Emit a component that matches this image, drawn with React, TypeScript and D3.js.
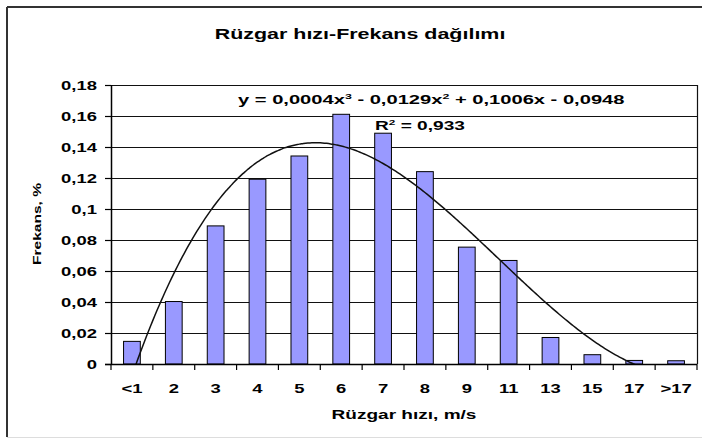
import React, { useEffect, useRef } from "react";
import * as d3 from "d3";

const categories = ["<1", "2", "3", "4", "5", "6", "7", "8", "9", "11", "13", "15", "17", ">17"];
const frequencies = [0.0146, 0.0403, 0.0891, 0.1192, 0.1342, 0.1611, 0.1489, 0.1241, 0.0754, 0.0668, 0.0171, 0.006, 0.0023, 0.0021];
const yTicks = [0, 0.02, 0.04, 0.06, 0.08, 0.1, 0.12, 0.14, 0.16, 0.18];
const yTickLabels = ["0", "0,02", "0,04", "0,06", "0,08", "0,1", "0,12", "0,14", "0,16", "0,18"];

const title = "Rüzgar hızı-Frekans dağılımı";
const xTitle = "Rüzgar hızı, m/s";
const yTitle = "Frekans, %";

// least squares cubic, same as excel's polynomial trendline
function cubicFit(ys: number[]) {
  const n = 4;
  const A: number[][] = [];
  for (let r = 0; r < n; r++) {
    A.push([]);
    for (let c = 0; c <= n; c++) A[r].push(0);
  }
  ys.forEach((y, i) => {
    const x = i + 1;
    for (let r = 0; r < n; r++) {
      for (let c = 0; c < n; c++) A[r][c] += Math.pow(x, r + c);
      A[r][n] += y * Math.pow(x, r);
    }
  });
  for (let p = 0; p < n; p++) {
    let best = p;
    for (let r = p + 1; r < n; r++) if (Math.abs(A[r][p]) > Math.abs(A[best][p])) best = r;
    [A[p], A[best]] = [A[best], A[p]];
    for (let r = 0; r < n; r++) {
      if (r === p) continue;
      const f = A[r][p] / A[p][p];
      for (let c = p; c <= n; c++) A[r][c] -= f * A[p][c];
    }
  }
  return A.map((row, i) => row[n] / row[i]);
}

function drawChart(node: SVGSVGElement) {
  const svg = d3.select(node);
  svg.selectAll("*").remove();

  const left = 111, right = 697, top = 85, bottom = 364;
  const font = "'Liberation Sans', Arial, sans-serif";

  // outer chart frame
  svg.append("line").attr("x1", 7).attr("x2", 7).attr("y1", 7).attr("y2", 437)
    .attr("stroke", "#333").attr("stroke-width", 2);
  svg.append("line").attr("x1", 7).attr("x2", 702).attr("y1", 7).attr("y2", 7)
    .attr("stroke", "#333").attr("stroke-width", 2);
  svg.append("line").attr("x1", 7).attr("x2", 702).attr("y1", 437.5).attr("y2", 437.5)
    .attr("stroke", "#ddd").attr("stroke-width", 1);

  const x = d3.scaleBand().domain(categories).range([left, right])
    .paddingInner(0.6).paddingOuter(0.3);
  const y = d3.scaleLinear().domain([0, 0.18]).range([bottom, top]);
  const step = x.step();

  // gridlines
  svg.append("g").selectAll("line").data(yTicks).join("line")
    .attr("x1", left).attr("x2", right)
    .attr("y1", d => Math.round(y(d)) + 0.5).attr("y2", d => Math.round(y(d)) + 0.5)
    .attr("stroke", "#111").attr("stroke-width", 1);
  svg.append("line").attr("x1", right + 0.5).attr("x2", right + 0.5).attr("y1", top).attr("y2", bottom)
    .attr("stroke", "#111").attr("stroke-width", 1.2);

  // bars
  svg.append("g").selectAll("rect").data(frequencies).join("rect")
    .attr("x", (d, i) => x(categories[i])!)
    .attr("y", d => y(d))
    .attr("width", x.bandwidth())
    .attr("height", d => y(0) - y(d))
    .attr("fill", "#9999ff").attr("stroke", "#000").attr("stroke-width", 1);

  // trendline
  const coef = cubicFit(frequencies);
  const xc = d3.scaleLinear().domain([1, categories.length])
    .range([x(categories[0])! + x.bandwidth() / 2, x(categories[categories.length - 1])! + x.bandwidth() / 2]);
  const pts = d3.range(1, categories.length + 0.001, 0.05).map(t => [t, coef[0] + coef[1] * t + coef[2] * t * t + coef[3] * t * t * t]);
  svg.append("clipPath").attr("id", "plotclip").append("rect")
    .attr("x", left).attr("y", top).attr("width", right - left).attr("height", bottom - top);
  svg.append("path").datum(pts)
    .attr("clip-path", "url(#plotclip)")
    .attr("fill", "none").attr("stroke", "#111").attr("stroke-width", 1.5)
    .attr("d", d3.line<number[]>().x(d => xc(d[0])).y(d => y(d[1])).curve(d3.curveBasis));

  // axes
  svg.append("line").attr("x1", left + 0.5).attr("x2", left + 0.5).attr("y1", top).attr("y2", bottom + 0.5)
    .attr("stroke", "#000").attr("stroke-width", 1.5);
  svg.append("line").attr("x1", left - 6).attr("x2", right).attr("y1", bottom + 0.5).attr("y2", bottom + 0.5)
    .attr("stroke", "#000").attr("stroke-width", 1.5);
  svg.append("g").selectAll("line").data(yTicks).join("line")
    .attr("x1", left - 6).attr("x2", left)
    .attr("y1", d => Math.round(y(d)) + 0.5).attr("y2", d => Math.round(y(d)) + 0.5)
    .attr("stroke", "#000").attr("stroke-width", 1.2);
  const bounds = categories.map(c => x(c)! + x.bandwidth() / 2 - step / 2).concat([right]);
  svg.append("g").selectAll("line").data(bounds).join("line")
    .attr("x1", d => d).attr("x2", d => d).attr("y1", bottom).attr("y2", bottom + 6)
    .attr("stroke", "#000").attr("stroke-width", 1.2);

  // tick labels
  svg.append("g").selectAll("text").data(yTicks).join("text")
    .attr("transform", d => `translate(97,${y(d) + 4.5}) scale(1.42,1)`)
    .attr("text-anchor", "end")
    .attr("font-family", font).attr("font-weight", "bold").attr("font-size", 13)
    .attr("fill", "#000")
    .text((d, i) => yTickLabels[i]);
  svg.append("g").selectAll("text").data(categories).join("text")
    .attr("transform", d => `translate(${x(d)! + x.bandwidth() / 2},393) scale(1.42,1)`)
    .attr("text-anchor", "middle")
    .attr("font-family", font).attr("font-weight", "bold").attr("font-size", 13)
    .attr("fill", "#000")
    .text(d => d);

  // titles
  svg.append("text").attr("transform", "translate(360,39) scale(1.43,1)")
    .attr("text-anchor", "middle").attr("font-family", font).attr("font-weight", "bold")
    .attr("font-size", 15).attr("fill", "#000").text(title);
  svg.append("text").attr("transform", "translate(404,419) scale(1.41,1)")
    .attr("text-anchor", "middle").attr("font-family", font).attr("font-weight", "bold")
    .attr("font-size", 13.5).attr("fill", "#000").text(xTitle);
  svg.append("text").attr("transform", "translate(41,224) rotate(-90) scale(1.35,1)")
    .attr("text-anchor", "middle").attr("font-family", font).attr("font-weight", "bold")
    .attr("font-size", 11.5).attr("fill", "#000").text(yTitle);

  // trendline equation
  const eq = svg.append("text").attr("transform", "translate(238,104) scale(1.55,1)")
    .attr("font-family", font).attr("font-weight", "bold").attr("font-size", 13).attr("fill", "#000");
  eq.append("tspan").text("y = 0,0004x");
  eq.append("tspan").attr("dy", -5).attr("font-size", 8).text("3");
  eq.append("tspan").attr("dy", 5).text(" - 0,0129x");
  eq.append("tspan").attr("dy", -5).attr("font-size", 8).text("2");
  eq.append("tspan").attr("dy", 5).text(" + 0,1006x - 0,0948");
  const r2 = svg.append("text").attr("transform", "translate(375,130) scale(1.47,1)")
    .attr("font-family", font).attr("font-weight", "bold").attr("font-size", 13).attr("fill", "#000");
  r2.append("tspan").text("R");
  r2.append("tspan").attr("dy", -5).attr("font-size", 8).text("2");
  r2.append("tspan").attr("dy", 5).text(" = 0,933");
}

export default function App() {
  const ref = useRef<SVGSVGElement>(null);
  useEffect(() => {
    if (ref.current) drawChart(ref.current);
  }, []);
  return (
    <svg ref={ref} width={702} height={439}
      style={{ position: "absolute", left: 0, top: 0, background: "#fff" }} />
  );
}
